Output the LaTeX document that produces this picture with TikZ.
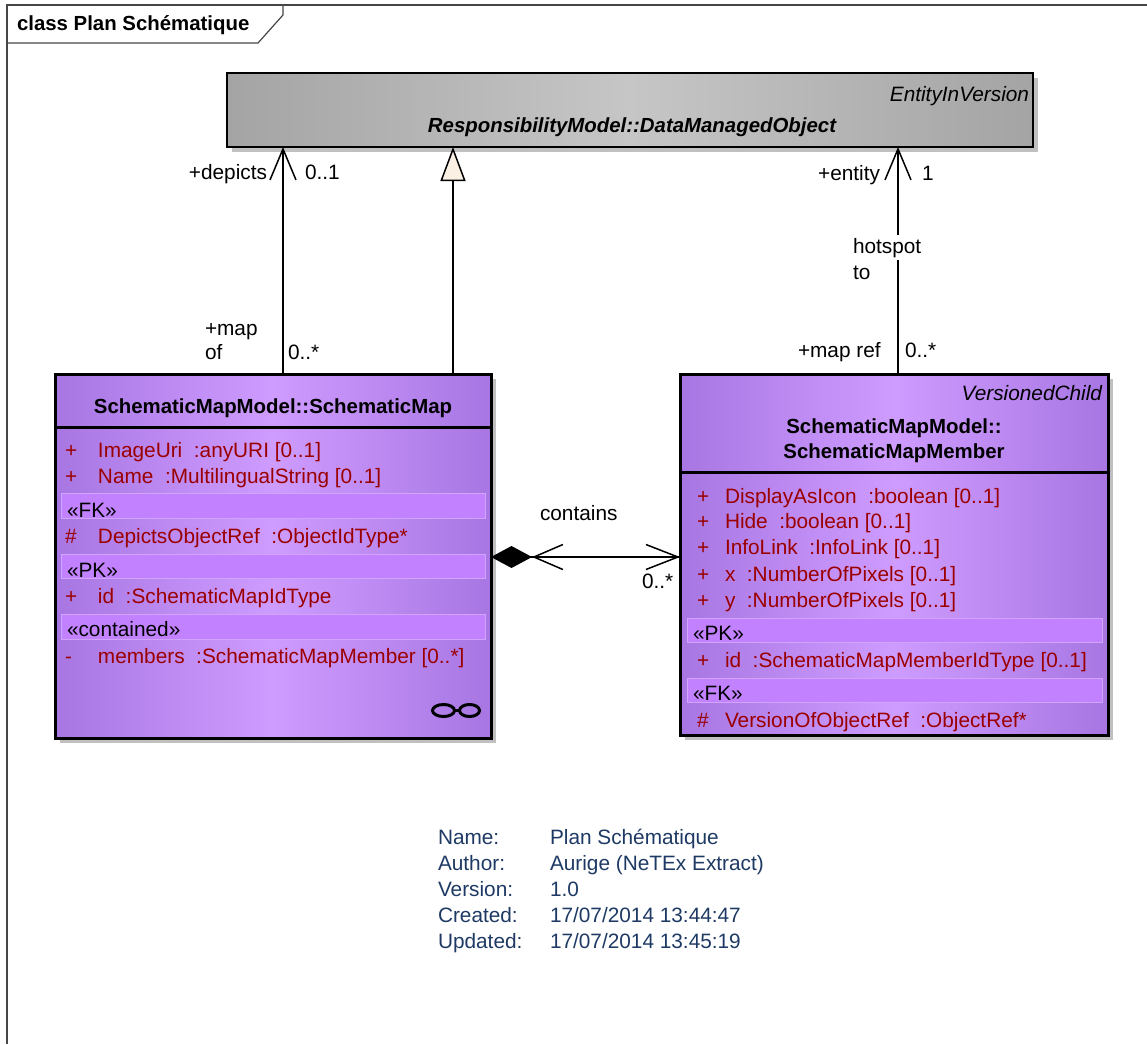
\documentclass[tikz,border=0pt]{standalone}
\usepackage{fontspec}
\setmainfont{Liberation Sans}
\usetikzlibrary{arrows.meta,shadows}

\definecolor{pEdge}{RGB}{168,118,226}
\definecolor{pMid}{RGB}{206,156,255}
\definecolor{pBand}{RGB}{194,130,255}
\definecolor{pBandLine}{RGB}{208,164,255}
\definecolor{gEdge}{RGB}{164,164,164}
\definecolor{gMid}{RGB}{198,198,198}
\definecolor{shadowgray}{RGB}{192,192,192}
\definecolor{attrred}{RGB}{155,0,0}
\definecolor{infoblue}{RGB}{30,58,100}
\definecolor{cream}{RGB}{250,240,228}
\definecolor{framegray}{RGB}{70,70,70}

\begin{document}
\begin{tikzpicture}[x=1pt,y=-1pt,
  every node/.style={inner sep=0pt, outer sep=0pt},
  txt/.style={anchor=base west, font=\fontsize{20.8}{25}\selectfont},
  boldtxt/.style={anchor=base, font=\fontsize{20.4}{25}\selectfont\bfseries},
  attr/.style={txt, text=attrred},
  stereo/.style={txt},
  info/.style={txt, text=infoblue},
  lbl/.style={txt},
  classbox/.style={draw, rectangle, line width=3pt, anchor=north west,
    left color=pEdge, right color=pEdge, middle color=pMid,
    drop shadow={shadow xshift=5pt, shadow yshift=-5pt, fill=shadowgray, opacity=1}},
  band/.style={fill=pBand, draw=pBandLine, line width=1pt},
  conn/.style={line width=1.5pt},
  barb/.style={-{Straight Barb[length=31pt,width=26pt]}},
]
% page and frame
\useasboundingbox (0,0) rectangle (1147,1044);
\fill[white] (0,0) rectangle (1147,1044);
\draw[framegray, line width=1.2pt] (1147,5) -- (7,5) -- (7,1044);
\draw[framegray, line width=1.2pt] (283,5) -- (283,15) -- (258,43) -- (7,43);
\node[txt, font=\fontsize{20.4}{25}\selectfont\bfseries] (frametitle) at (17,30) {class Plan Schématique};

% ResponsibilityModel::DataManagedObject
\node[draw, rectangle, line width=2pt, anchor=north west,
  minimum width=806pt, minimum height=74pt,
  left color=gEdge, right color=gEdge, middle color=gMid,
  drop shadow={shadow xshift=5pt, shadow yshift=-5pt, fill=shadowgray, opacity=1}]
  (dmo) at (227,73) {};
\node[txt, anchor=base east, font=\fontsize{20.8}{25}\selectfont\itshape] (dmostereo) at (1029,101) {EntityInVersion};
\node[boldtxt, font=\fontsize{20.4}{25}\selectfont\bfseries\itshape] (dmoname) at (632,132) {ResponsibilityModel::DataManagedObject};

% SchematicMap
\node[classbox, minimum width=436pt, minimum height=364pt] (map) at (55,374) {};
\draw[line width=3pt] (map.west |- 0,427) -- (map.east |- 0,427);
\node[boldtxt] (mapname) at (273,413) {SchematicMapModel::SchematicMap};
\filldraw[band] (61,493) rectangle (485,518);
\filldraw[band] (61,554) rectangle (485,578);
\filldraw[band] (61,614) rectangle (485,639);
\node[attr] (ma1) at (65,457) {\makebox[33pt][l]{+}ImageUri\ \ :anyURI [0..1]};
\node[attr] (ma2) at (65,483) {\makebox[33pt][l]{+}Name\ \ :MultilingualString [0..1]};
\node[stereo] (ms1) at (67,517) {«FK»};
\node[attr] (ma3) at (65,543) {\makebox[33pt][l]{\#}DepictsObjectRef\ \ :ObjectIdType*};
\node[stereo] (ms2) at (67,577) {«PK»};
\node[attr] (ma4) at (65,603) {\makebox[33pt][l]{+}id\ \ :SchematicMapIdType};
\node[stereo] (ms3) at (67,636) {«contained»};
\node[attr] (ma5) at (65,663) {\makebox[33pt][l]{-}members\ \ :SchematicMapMember [0..*]};
% composite-structure mark
\draw[line width=3pt] (443.5,710.5) ellipse [x radius=11pt, y radius=6pt];
\draw[line width=3pt] (469.5,710.5) ellipse [x radius=10pt, y radius=6pt];
\draw[line width=3pt] (454,710.5) -- (460,710.5);

% SchematicMapMember
\node[classbox, minimum width=428pt, minimum height=361pt] (mem) at (680,374) {};
\draw[line width=3pt] (mem.west |- 0,472) -- (mem.east |- 0,472);
\node[txt, anchor=base east, font=\fontsize{20.8}{25}\selectfont\itshape] (memstereo) at (1102,400) {VersionedChild};
\node[boldtxt] (memname1) at (894,433) {SchematicMapModel::};
\node[boldtxt] (memname2) at (894,458) {SchematicMapMember};
\filldraw[band] (687,618) rectangle (1102,642);
\filldraw[band] (687,678) rectangle (1102,702);
\node[attr] (ra1) at (697,503) {\makebox[28pt][l]{+}DisplayAsIcon\ \ :boolean [0..1]};
\node[attr] (ra2) at (697,528) {\makebox[28pt][l]{+}Hide\ \ :boolean [0..1]};
\node[attr] (ra3) at (697,554) {\makebox[28pt][l]{+}InfoLink\ \ :InfoLink [0..1]};
\node[attr] (ra4) at (697,581) {\makebox[28pt][l]{+}x\ \ :NumberOfPixels [0..1]};
\node[attr] (ra5) at (697,607) {\makebox[28pt][l]{+}y\ \ :NumberOfPixels [0..1]};
\node[stereo] (rs1) at (693,640) {«PK»};
\node[attr] (ra6) at (697,667) {\makebox[28pt][l]{+}id\ \ :SchematicMapMemberIdType [0..1]};
\node[stereo] (rs2) at (693,700) {«FK»};
\node[attr] (ra7) at (697,727) {\makebox[28pt][l]{\#}VersionOfObjectRef\ \ :ObjectRef*};

% connector positions
\coordinate (depx) at (283,0);
\coordinate (genx) at (453,0);
\coordinate (entx) at (898,0);
\coordinate (compy) at (0,557);

% depicts association
\draw[conn, barb] (map.north -| depx) -- (dmo.south -| depx);
% generalization
\draw[conn, -{Triangle[length=34pt,width=25pt,fill=cream]}] (map.north -| genx) -- (dmo.south -| genx);
% hotspot association
\draw[conn, barb] (mem.north -| entx) -- (dmo.south -| entx);
% contains composition
\draw[conn, {Diamond[length=41pt,width=22pt]}-{Straight Barb[length=32pt,width=25pt]}]
  (map.east |- compy) -- (mem.west |- compy);
\draw[conn, {Straight Barb[length=29pt,width=25pt]}-, shorten <=41pt]
  (map.east |- compy) -- (mem.west |- compy);

% connector labels
\node[lbl, anchor=base east] (deprole) at (267,179) {+depicts};
\node[lbl] (depmult) at (305,179) {0..1};
\node[lbl] (maprole1) at (205,335) {+map};
\node[lbl] (maprole2) at (205,359) {of};
\node[lbl] (mapmult) at (288,359) {0..*};
\node[lbl, anchor=base east] (entrole) at (880,180) {+entity};
\node[lbl] (entmult) at (922,180) {1};
\node[lbl, fill=white, inner ysep=3pt] (hot1) at (853,253) {hotspot};
\node[lbl] (hot2) at (853,279) {to};
\node[lbl] (refrole) at (798,357) {+map ref};
\node[lbl] (refmult) at (905,357) {0..*};
\node[lbl] (contains) at (540,520) {contains};
\node[lbl] (compmult) at (642,588) {0..*};

% diagram properties
\node[info] (k1) at (438,844) {Name:};
\node[info] (v1) at (550,844) {Plan Schématique};
\node[info] (k2) at (438,870) {Author:};
\node[info] (v2) at (550,870) {Aurige (NeTEx Extract)};
\node[info] (k3) at (438,896) {Version:};
\node[info] (v3) at (550,896) {1.0};
\node[info] (k4) at (438,922) {Created:};
\node[info] (v4) at (550,922) {17/07/2014 13:44:47};
\node[info] (k5) at (438,948) {Updated:};
\node[info] (v5) at (550,948) {17/07/2014 13:45:19};
\end{tikzpicture}
\end{document}
